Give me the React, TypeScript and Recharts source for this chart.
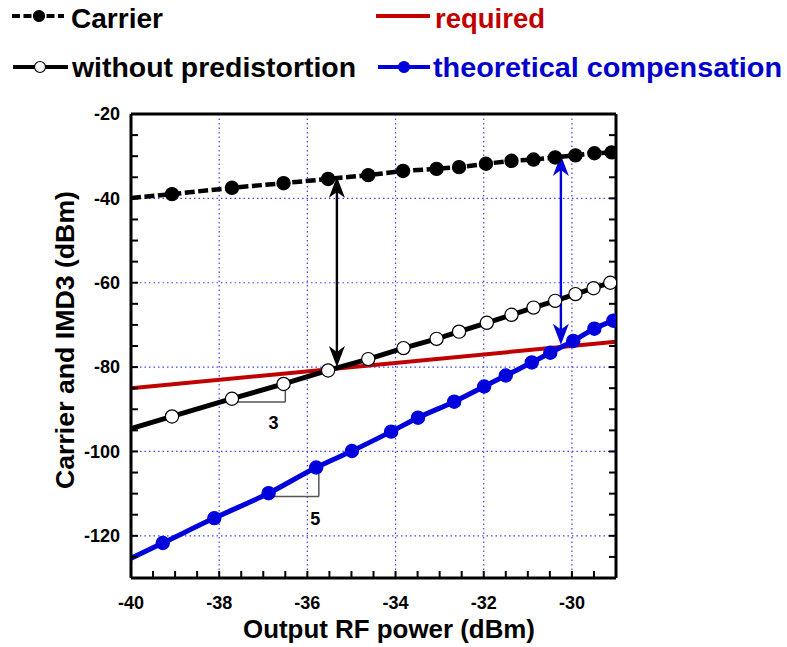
import React from "react";
import {
  CartesianGrid,
  ComposedChart,
  Label,
  Line,
  ReferenceDot,
  ReferenceLine,
  Scatter,
  XAxis,
  YAxis,
} from "recharts";

// values; first point of each curve is the start at the left edge (no marker)
const carrierX = [-40, -39.07, -37.71, -36.54, -35.53, -34.62, -33.83, -33.07, -32.56, -31.95, -31.37, -30.87, -30.38, -29.92, -29.49, -29.1];
const carrierY = [-39.9, -39.0, -37.5, -36.4, -35.4, -34.5, -33.5, -33.0, -32.6, -31.8, -31.1, -30.8, -30.3, -29.8, -29.3, -29.1];

const withoutX = [-40, -39.07, -37.71, -36.54, -35.53, -34.62, -33.82, -33.07, -32.56, -31.93, -31.37, -30.87, -30.38, -29.92, -29.51, -29.13];
const withoutY = [-94.6, -91.7, -87.5, -84.0, -80.8, -78.1, -75.5, -73.3, -71.6, -69.5, -67.6, -65.9, -64.3, -62.7, -61.3, -60.0];

const requiredX = [-40, -29];
const requiredY = [-85.0, -74.0];

const theoryX = [-40, -39.28, -38.11, -36.88, -35.8, -34.99, -34.1, -33.49, -32.67, -31.99, -31.5, -30.91, -30.49, -29.97, -29.49, -29.06];
const theoryY = [-125.3, -121.7, -115.8, -109.9, -103.8, -99.9, -95.3, -92.0, -88.2, -84.6, -82.0, -78.9, -76.6, -73.8, -70.9, -69.0];

const xMajor = [-40, -38, -36, -34, -32, -30];
const yMajor = [-20, -40, -60, -80, -100, -120];
const xGrid = [-38, -36, -34, -32, -30];
const yGrid = [-40, -60, -80, -100, -120];
const xTicks = Array.from({ length: 23 }, (_, i) => -40 + i * 0.5);
const yTicks = Array.from({ length: 23 }, (_, i) => -130 + i * 5);

// annotations: double arrows and slope triangles
const blackArrow = { x: -35.33, top: -34.9, bottom: -80.0 };
const blueArrow = { x: -30.25, top: -29.7, bottom: -74.7 };
const slope3 = { x0: -37.62, x1: -36.5, y0: -88.3, y1: -84.4, lx: -36.77, ly: -93.1, text: "3" };
const slope5 = { x0: -36.8, x1: -35.74, y0: -110.7, y1: -105.3, lx: -35.82, ly: -115.8, text: "5" };

const FONT = '"Liberation Sans", Arial, Helvetica, sans-serif';
const RED = "#c00000";
const BLUE = "#0000dd";
const BLUE_TEXT = "#0000cc";

const pts = (xs: number[], ys: number[]) => xs.map((x, i) => ({ x, y: ys[i] }));

const carrierData = pts(carrierX, carrierY);
const withoutData = pts(withoutX, withoutY);
const requiredData = pts(requiredX, requiredY);
const theoryData = pts(theoryX, theoryY);

const dotShape = (fill: string, stroke: string) => (p: any) => (
  <circle cx={p.cx} cy={p.cy} r={6.6} fill={fill} stroke={stroke} strokeWidth={1.2} />
);

const arrowShape = (color: string) => (p: any) => {
  const { x1, y1, x2, y2 } = p;
  const top = Math.min(y1, y2);
  const bot = Math.max(y1, y2);
  const L = 21;
  const W = 8;
  return (
    <g>
      <line x1={x1} y1={top + 8} x2={x2} y2={bot - 8} stroke={color} strokeWidth={2.4} />
      <path d={`M${x1},${top} L${x1 - W},${top + L} L${x1},${top + L * 0.72} L${x1 + W},${top + L} Z`} fill={color} />
      <path d={`M${x1},${bot} L${x1 - W},${bot - L} L${x1},${bot - L * 0.72} L${x1 + W},${bot - L} Z`} fill={color} />
    </g>
  );
};

const slopeText = (t: string) => (p: any) => (
  <text x={p.cx} y={p.cy} dy="0.36em" textAnchor="middle" fontFamily={FONT} fontWeight="bold" fontSize={18} fill="#000">
    {t}
  </text>
);

const XTitle = (props: any) => {
  const vb = props.viewBox;
  return (
    <text x={vb.x + vb.width / 2 + 15.5} y={vb.y + 60} textAnchor="middle" fontFamily={FONT} fontWeight="bold" fontSize={25} fill="#000" textLength={292} lengthAdjust="spacingAndGlyphs">
      Output RF power (dBm)
    </text>
  );
};

const YTitle = (props: any) => {
  const vb = props.viewBox;
  const x = vb.x + 23;
  const y = vb.y + vb.height / 2 - 6;
  return (
    <text x={x} y={y} transform={`rotate(-90 ${x} ${y})`} textAnchor="middle" fontFamily={FONT} fontWeight="bold" fontSize={25} fill="#000" textLength={298} lengthAdjust="spacingAndGlyphs">
      Carrier and IMD3 (dBm)
    </text>
  );
};

const legend = [
  { label: "Carrier", color: "#000", text: "#000", dash: "8 3.5", marker: "filled", x: 12, x2: 64, dot: 39, tx: 71, tl: 92, y: 16, by: 28 },
  { label: "required", color: RED, text: RED, dash: undefined, marker: "none", x: 376, x2: 430, dot: 0, tx: 435, tl: 110, y: 16, by: 28 },
  { label: "without predistortion", color: "#000", text: "#000", dash: undefined, marker: "open", x: 13, x2: 68, dot: 40, tx: 72, tl: 284, y: 67, by: 77 },
  { label: "theoretical compensation", color: BLUE, text: BLUE_TEXT, dash: undefined, marker: "filled", x: 378, x2: 430, dot: 404, tx: 433, tl: 349, y: 67, by: 77 },
];

function Legend() {
  return (
    <svg width={787} height={95} style={{ position: "absolute", left: 0, top: 0 }}>
      {legend.map((l) => (
        <g key={l.label}>
          <line x1={l.x} y1={l.y} x2={l.x2} y2={l.y} stroke={l.color} strokeWidth={4.2} strokeDasharray={l.dash} />
          {l.marker !== "none" && (
            <circle cx={l.dot} cy={l.y} r={5.5} fill={l.marker === "open" ? "#fff" : l.color} stroke={l.color} strokeWidth={1.2} />
          )}
          <text x={l.tx} y={l.by} fontFamily={FONT} fontWeight="bold" fontSize={28} fill={l.text} textLength={l.tl} lengthAdjust="spacingAndGlyphs">
            {l.label}
          </text>
        </g>
      ))}
    </svg>
  );
}

const tickStyle = { fill: "#000", fontSize: 18, fontWeight: "bold", fontFamily: FONT };
const axisLine = { stroke: "#000", strokeWidth: 3 };
const tickLine = { stroke: "#000", strokeWidth: 2 };

export default function App() {
  return (
    <div style={{ position: "absolute", left: 0, top: 0, width: 787, height: 647, background: "#fff" }}>
      <ComposedChart width={787} height={647} margin={{ top: 113, right: 170, bottom: 29, left: 51 }}>
        <CartesianGrid verticalValues={xGrid} horizontalValues={yGrid} stroke="#4040ff" strokeDasharray="1.5 3" strokeWidth={1.2} />
        <XAxis
          dataKey="x"
          type="number"
          domain={[-40, -29]}
          ticks={xTicks}
          interval={0}
          allowDataOverflow
          height={40}
          tickSize={-7}
          tickMargin={25}
          tick={tickStyle}
          axisLine={axisLine}
          tickLine={tickLine}
          tickFormatter={(v: number) => (xMajor.includes(v) ? `${v}` : "")}
        >
          <Label content={XTitle} />
        </XAxis>
        <XAxis
          xAxisId="top"
          orientation="top"
          type="number"
          domain={[-40, -29]}
          ticks={xTicks}
          interval={0}
          allowDataOverflow
          height={1}
          tickSize={-7}
          axisLine={axisLine}
          tickLine={tickLine}
          tickFormatter={() => ""}
        />
        <YAxis
          dataKey="y"
          type="number"
          domain={[-130, -20]}
          ticks={yTicks}
          interval={0}
          allowDataOverflow
          width={80}
          tickSize={-7}
          tickMargin={18}
          tick={tickStyle}
          axisLine={axisLine}
          tickLine={tickLine}
          tickFormatter={(v: number) => (yMajor.includes(v) ? `${v}` : "")}
        >
          <Label content={YTitle} />
        </YAxis>
        <YAxis
          yAxisId="right"
          orientation="right"
          type="number"
          domain={[-130, -20]}
          ticks={yTicks}
          interval={0}
          allowDataOverflow
          width={1}
          tickSize={-7}
          axisLine={axisLine}
          tickLine={tickLine}
          tickFormatter={() => ""}
        />

        <Line data={requiredData} dataKey="y" stroke={RED} strokeWidth={4} dot={false} isAnimationActive={false} />
        <Line data={carrierData} dataKey="y" stroke="#000" strokeWidth={4.5} strokeDasharray="10 3.5" dot={false} isAnimationActive={false} />
        <Line data={withoutData} dataKey="y" stroke="#000" strokeWidth={5} dot={false} isAnimationActive={false} />
        <Line data={theoryData} dataKey="y" type="monotone" stroke={BLUE} strokeWidth={5} dot={false} isAnimationActive={false} />

        <ReferenceLine segment={[{ x: slope3.x0, y: slope3.y0 }, { x: slope3.x1, y: slope3.y0 }]} stroke="#555" strokeWidth={1.5} />
        <ReferenceLine segment={[{ x: slope3.x1, y: slope3.y0 }, { x: slope3.x1, y: slope3.y1 }]} stroke="#555" strokeWidth={1.5} />
        <ReferenceLine segment={[{ x: slope5.x0, y: slope5.y0 }, { x: slope5.x1, y: slope5.y0 }]} stroke="#555" strokeWidth={1.5} />
        <ReferenceLine segment={[{ x: slope5.x1, y: slope5.y0 }, { x: slope5.x1, y: slope5.y1 }]} stroke="#555" strokeWidth={1.5} />
        <ReferenceDot x={slope3.lx} y={slope3.ly} r={1} shape={slopeText(slope3.text)} />
        <ReferenceDot x={slope5.lx} y={slope5.ly} r={1} shape={slopeText(slope5.text)} />

        <Scatter data={carrierData.slice(1)} dataKey="y" shape={dotShape("#000", "#000")} isAnimationActive={false} />
        <Scatter data={withoutData.slice(1)} dataKey="y" shape={dotShape("#fff", "#000")} isAnimationActive={false} />
        <Scatter data={theoryData.slice(1)} dataKey="y" shape={dotShape(BLUE, BLUE)} isAnimationActive={false} />

        <ReferenceLine segment={[{ x: blackArrow.x, y: blackArrow.top }, { x: blackArrow.x, y: blackArrow.bottom }]} stroke="#000" shape={arrowShape("#000")} />
        <ReferenceLine segment={[{ x: blueArrow.x, y: blueArrow.top }, { x: blueArrow.x, y: blueArrow.bottom }]} stroke={BLUE} shape={arrowShape(BLUE)} />
      </ComposedChart>
      <Legend />
    </div>
  );
}
